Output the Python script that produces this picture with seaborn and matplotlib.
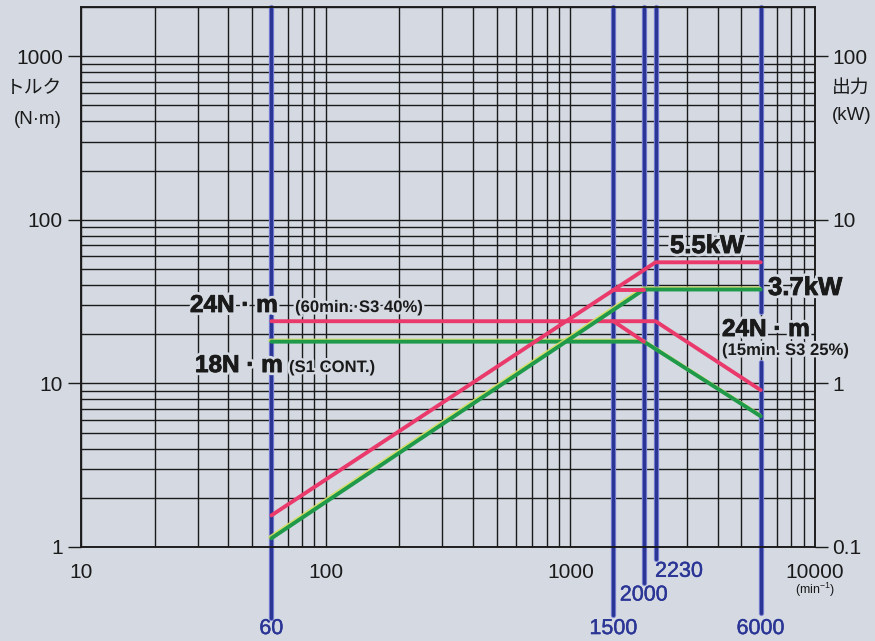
import matplotlib
matplotlib.use("Agg")
import matplotlib.pyplot as plt
import matplotlib.patheffects as pe
from matplotlib.ticker import FixedLocator, FixedFormatter, LogLocator, NullFormatter, NullLocator
import seaborn as sns

# ---------------- data ----------------
# torque curves (N·m) vs speed (min^-1)
spd_t_s3_25 = [60, 2230, 6000]
trq_s3_25 = [24, 24, 9.1]
spd_t_s3_40 = [1500, 2000]
trq_s3_40 = [24, 18]
spd_t_s1 = [60, 2000, 6000]
trq_s1 = [18, 18, 6.3]
# output curves (kW) vs speed
spd_p_s3 = [60, 2230, 6000]
pwr_s3 = [0.156, 5.5, 5.5]
spd_p_s3_40 = [1500, 2000]
pwr_s3_40 = [3.75, 3.75]
spd_p_s1 = [60, 2000, 6000]
pwr_s1 = [0.113, 3.75, 3.75]
# marked speeds
mark_speeds = [60, 1500, 2000, 2230, 6000]
mark_labels = ["60", "1500", "2000", "2230", "6000"]
# tick labels
x_ticks = [10, 100, 1000, 10000]
x_ticklabels = ["10", "100", "1000", "10000"]
yl_ticks = [1, 10, 100, 1000]
yl_ticklabels = ["1", "10", "100", "1000"]
yr_ticks = [0.1, 1, 10, 100]
yr_ticklabels = ["0.1", "1", "10", "100"]

# ---------------- style ----------------
sns.set_theme(style="white")
plt.rcParams["font.family"] = ["Liberation Sans", "Noto Sans CJK JP", "DejaVu Sans"]
plt.rcParams["mathtext.fontset"] = "custom"
plt.rcParams["mathtext.rm"] = "Liberation Sans"

BG = "#d4d9e2"
RED = "#ea3a6c"
GREEN = "#1f9a4a"
BLUE = "#2a3596"
BLUE_FRINGE = "#7f86d6"
TXT = "#1a1a1a"
W, H = 875, 641

fig = plt.figure(figsize=(W / 100, H / 100), dpi=100, facecolor=BG)
ax = fig.add_axes([81 / W, 94 / H, 734 / W, 540 / H])
ax.set_facecolor(BG)
ax.set_xscale("log")
ax.set_yscale("log")
ax.set_xlim(10, 10000)
ax.set_ylim(1, 2000)
ax.set_axisbelow(True)

ax2 = ax.twinx()
ax2.set_yscale("log")
ax2.set_ylim(0.1, 200)

# grid
ax.xaxis.set_major_locator(FixedLocator(x_ticks))
ax.xaxis.set_major_formatter(FixedFormatter(x_ticklabels))
ax.xaxis.set_minor_locator(LogLocator(base=10, subs=range(2, 10)))
ax.xaxis.set_minor_formatter(NullFormatter())
ax.yaxis.set_major_locator(FixedLocator(yl_ticks))
ax.yaxis.set_major_formatter(FixedFormatter(yl_ticklabels))
ax.yaxis.set_minor_locator(LogLocator(base=10, subs=range(2, 10)))
ax.yaxis.set_minor_formatter(NullFormatter())
ax.grid(True, which="both", color="#1a1a1a", linewidth=1.0)

ax2.yaxis.set_major_locator(FixedLocator(yr_ticks))
ax2.yaxis.set_major_formatter(FixedFormatter(yr_ticklabels))
ax2.yaxis.set_minor_locator(NullLocator())

ax.tick_params(which="minor", length=0)
ax.tick_params(axis="x", which="major", direction="out", length=6.5, width=1.0,
               pad=5, labelsize=15, color="#1a1a1a", labelcolor=TXT)
ax.tick_params(axis="y", which="major", direction="out", length=9.5, width=1.0,
               pad=3.5, labelsize=15, color="#1a1a1a", labelcolor=TXT)
ax2.tick_params(axis="y", which="major", direction="out", length=9.5, width=1.0,
                pad=3, labelsize=15, color="#1a1a1a", labelcolor=TXT)
for a in (ax, ax2):
    for s in a.spines.values():
        s.set_color("#1a1a1a")
        s.set_linewidth(1.1)

# marked speed lines (extend below the axes)
line_bottom = [-0.131, -0.126, -0.067, -0.022, -0.122]
label_y = [-0.151, -0.151, -0.089, -0.045, -0.151]
label_ha = ["center", "center", "center", "left", "center"]
for spd, lab, yb, yl, ha in zip(mark_speeds, mark_labels, line_bottom, label_y, label_ha):
    spans = [(yb, 1.0)] if spd != 6000 else [(yb, 0.343), (0.435, 1.0)]
    for y0, y1 in spans:
        ax.axvline(spd, ymin=y0, ymax=y1, color=BLUE_FRINGE, lw=3.8, clip_on=False, zorder=2)
        ax.axvline(spd, ymin=y0, ymax=y1, color=BLUE, lw=2.4, clip_on=False, zorder=2.1)
    ax.text(spd * (1.0 if ha == "center" else 0.995), yl, lab, transform=ax.get_xaxis_transform(),
            ha=ha, va="center", fontsize=15.5, color=BLUE, clip_on=False,
            path_effects=[pe.Stroke(linewidth=0.3, foreground=BLUE), pe.Normal()])

# torque curves
lw = 2.8
shadow = [pe.SimpleLineShadow(offset=(-0.8, 0.8), shadow_color="#d8e060", alpha=0.9), pe.Normal()]
sns.lineplot(x=spd_t_s1, y=trq_s1, ax=ax, color=GREEN, linewidth=lw, estimator=None, sort=False,
             zorder=3, path_effects=shadow)
sns.lineplot(x=spd_t_s3_25, y=trq_s3_25, ax=ax, color=RED, linewidth=lw, estimator=None, sort=False, zorder=3.2)
sns.lineplot(x=spd_t_s3_40, y=trq_s3_40, ax=ax, color=RED, linewidth=lw, estimator=None, sort=False, zorder=3.2)
# output curves
sns.lineplot(x=spd_p_s1, y=pwr_s1, ax=ax2, color=GREEN, linewidth=lw, estimator=None, sort=False,
             zorder=3, path_effects=shadow)
sns.lineplot(x=spd_p_s3, y=pwr_s3, ax=ax2, color=RED, linewidth=lw, estimator=None, sort=False, zorder=3.2)
sns.lineplot(x=spd_p_s3_40, y=pwr_s3_40, ax=ax2, color=RED, linewidth=lw, estimator=None, sort=False, zorder=3.2)

for a in (ax, ax2):
    a.set_xlabel("")
    a.set_ylabel("")
ax.set_xlim(10, 10000)

# annotations
ko_big = [pe.Stroke(linewidth=4.5, foreground=BG), pe.Stroke(linewidth=0.6, foreground=TXT), pe.Normal()]
ko_small = [pe.Stroke(linewidth=3.5, foreground=BG), pe.Normal()]
def note(x, y, s, size, effects):
    ax2.text(x, y, s, transform=ax2.transAxes, fontsize=size, color=TXT, ha="left", va="baseline",
             fontweight="bold", path_effects=effects, zorder=6)

note(0.1485, 0.4352, "24N · m", 17.5, ko_big)
note(0.2916, 0.4352, "(60min.·S3 40%)", 12, ko_small)
note(0.1553, 0.3240, "18N · m", 17.5, ko_big)
note(0.2834, 0.3240, "(S1 CONT.)", 12, ko_small)
note(0.8025, 0.5444, "5.5kW", 18.5, ko_big)
note(0.9360, 0.4667, "3.7kW", 18.5, ko_big)
note(0.8733, 0.3907, "24N · m", 17.5, ko_big)
note(0.8733, 0.3556, "(15min. S3 25%)", 12, ko_small)

# axis titles
fig.text(62 / W, 1 - 89 / H, "トルク", ha="right", va="center", fontsize=13.5, color=TXT)
fig.text(62 / W, 1 - 120 / H, "(N·m)", ha="right", va="center", fontsize=13.5, color=TXT)
fig.text(832 / W, 1 - 88 / H, "出力", ha="left", va="center", fontsize=13.5, color=TXT)
fig.text(832 / W, 1 - 116 / H, "(kW)", ha="left", va="center", fontsize=13.5, color=TXT)
fig.text(815 / W, 1 - 590 / H, r"(min$^{\mathregular{-1}}$)", ha="center", va="center", fontsize=9, color=TXT)

fig.savefig("out.png", dpi=100, facecolor=BG)
